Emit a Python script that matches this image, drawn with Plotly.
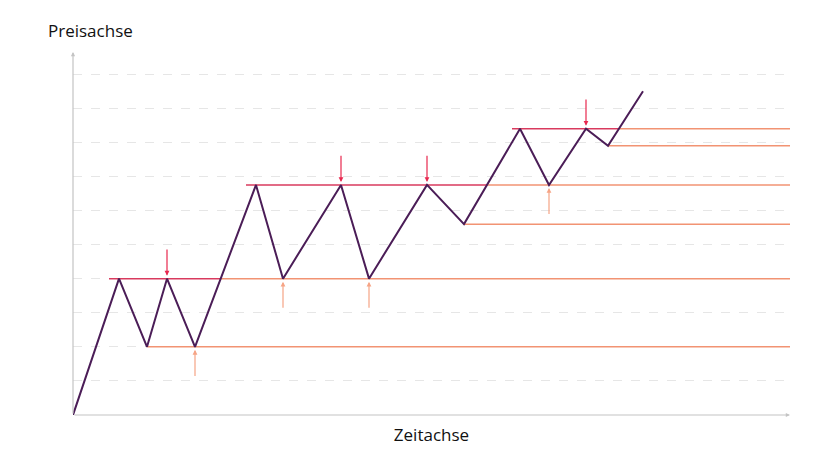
import plotly.graph_objects as go

# price path (time units, price units)
path_x = [0, 46, 74, 94, 122, 183, 210, 268, 296, 354, 391, 447, 476, 513, 535, 570]
path_y = [0, 4, 2, 4, 2, 6.75, 4, 6.75, 4, 6.75, 5.6, 8.4, 6.75, 8.4, 7.9, 9.5]

# resistance levels (start x, level) -> become support after breakout
res_start = [36, 173, 439]
res_level = [4, 6.75, 8.4]
# support levels (start x, level)
sup_start = [74, 391, 535]
sup_level = [2, 5.6, 7.9]

# arrows at touches
down_x = [94, 268, 354, 513]
down_y = [4, 6.75, 6.75, 8.4]
up_x = [122, 210, 296, 476]
up_y = [2, 4, 4, 6.75]
arrow_len = 0.9

x_end = 717
y_top = 10.65

C_LINE = "#4b1d57"
C_RES = "#d93a5e"
C_SUP = "#f29373"
C_ARR_DN = "#e8284f"
C_ARR_UP = "#f6a485"
C_AXIS = "#c4c4c4"


def breakout(x0, level):
    for i in range(len(path_x) - 1):
        xa, xb = path_x[i], path_x[i + 1]
        ya, yb = path_y[i], path_y[i + 1]
        if xa >= x0 and ya < level < yb:
            return xa + (level - ya) / (yb - ya) * (xb - xa)
    return x_end


fig = go.Figure()

for xs, lv in zip(res_start, res_level):
    bx = breakout(xs, lv)
    fig.add_trace(go.Scatter(x=[xs, bx], y=[lv, lv], mode="lines",
                             line=dict(color=C_RES, width=1.5), hoverinfo="skip"))
    fig.add_trace(go.Scatter(x=[bx, x_end], y=[lv, lv], mode="lines",
                             line=dict(color=C_SUP, width=1.5), hoverinfo="skip"))

for xs, lv in zip(sup_start, sup_level):
    fig.add_trace(go.Scatter(x=[xs, x_end], y=[lv, lv], mode="lines",
                             line=dict(color=C_SUP, width=1.5), hoverinfo="skip"))

fig.add_trace(go.Scatter(x=path_x, y=path_y, mode="lines",
                         line=dict(color=C_LINE, width=2)))

annotations = []
for x, y in zip(down_x, down_y):
    annotations.append(dict(x=x, y=y, ax=x, ay=y + arrow_len, xref="x", yref="y",
                            axref="x", ayref="y", showarrow=True, arrowhead=2,
                            arrowsize=0.8, arrowwidth=1.2, arrowcolor=C_ARR_DN,
                            standoff=3, text=""))
for x, y in zip(up_x, up_y):
    annotations.append(dict(x=x, y=y, ax=x, ay=y - arrow_len, xref="x", yref="y",
                            axref="x", ayref="y", showarrow=True, arrowhead=2,
                            arrowsize=0.8, arrowwidth=1.2, arrowcolor=C_ARR_UP,
                            standoff=3, text=""))
# axis arrows
annotations.append(dict(x=0, y=y_top, ax=0, ay=0, xref="x", yref="y", axref="x", ayref="y",
                        showarrow=True, arrowhead=2, arrowsize=0.7, arrowwidth=1.2,
                        arrowcolor=C_AXIS, text=""))
annotations.append(dict(x=x_end, y=0, ax=0, ay=0, xref="x", yref="y", axref="x", ayref="y",
                        showarrow=True, arrowhead=2, arrowsize=0.7, arrowwidth=1.2,
                        arrowcolor=C_AXIS, text=""))
annotations.append(dict(x=0, y=1, xref="paper", yref="paper", xanchor="center", yanchor="bottom",
                        xshift=17, yshift=8,
                        text="Preisachse", showarrow=False,
                        font=dict(family="Open Sans", size=17, color="#111")))

fig.update_layout(
    width=840, height=465,
    margin=dict(l=65, r=58, t=44, b=58),
    paper_bgcolor="white", plot_bgcolor="white",
    showlegend=False,
    annotations=annotations,
    xaxis=dict(range=[0, x_end], showgrid=False, zeroline=False, showticklabels=False,
               ticks="", showline=False,
               title=dict(text="Zeitachse", standoff=14,
                          font=dict(family="Open Sans", size=17, color="#111"))),
    yaxis=dict(range=[0, y_top], tick0=0, dtick=1, showgrid=True, gridcolor="#e6e6e6",
               griddash="dash", gridwidth=1, zeroline=False, showticklabels=False,
               ticks="", showline=False),
)

fig.write_html("out.html")
